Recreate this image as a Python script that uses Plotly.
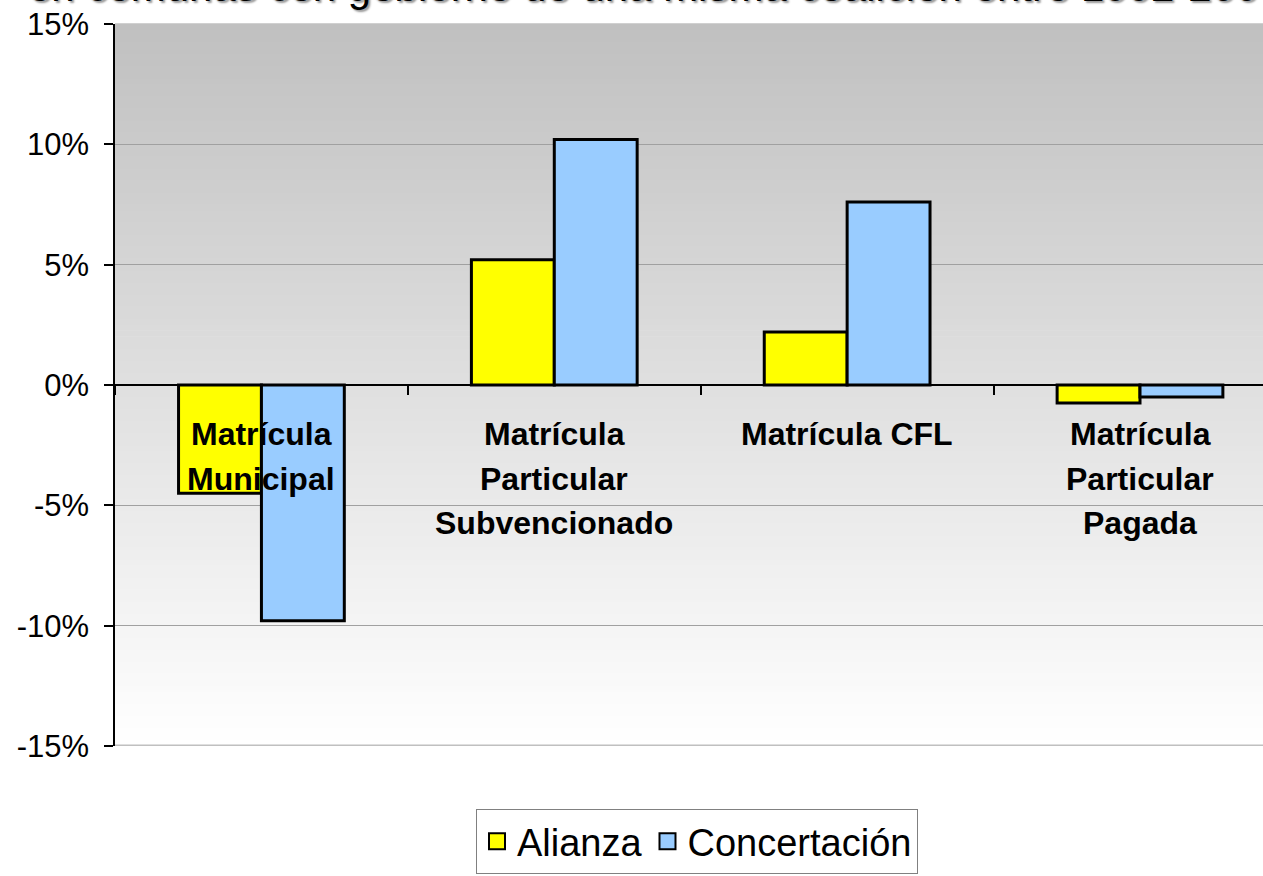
import plotly.graph_objects as go

# ---------------- data ----------------
category_lines = [
    ["Matrícula", "Municipal"],
    ["Matrícula", "Particular", "Subvencionado"],
    ["Matrícula CFL"],
    ["Matrícula", "Particular", "Pagada"],
]
categories = [" ".join(l) for l in category_lines]
alianza = [-4.5, 5.2, 2.2, -0.75]
concertacion = [-9.8, 10.2, 7.6, -0.5]
series_names = ["Alianza", "Concertación"]
y_tickvals = [-15, -10, -5, 0, 5, 10, 15]
y_ticktext = ["-15%", "-10%", "-5%", "0%", "5%", "10%", "15%"]
title_text = "en comunas con gobierno de una misma coalición entre 1992-2004"

FONT = "Arial, 'Liberation Sans', sans-serif"
colors = ["#FFFF00", "#99CCFF"]

fig = go.Figure()
for name, vals, col in zip(series_names, [alianza, concertacion], colors):
    fig.add_trace(go.Bar(
        x=categories, y=vals, name=name, showlegend=False,
        marker=dict(color=col, line=dict(color="black", width=3)),
    ))
    # legend proxy
    fig.add_trace(go.Scatter(
        x=[None], y=[None], mode="markers", name=name,
        marker=dict(symbol="square", size=16, color=col,
                    line=dict(color="black", width=2)),
    ))

# gradient background bands
shapes = []
N = 120
for i in range(N):
    t0 = i / N
    t1 = (i + 1) / N
    tc = (t0 + t1) / 2
    v = int(round(255 - 63 * tc))
    shapes.append(dict(type="rect", xref="paper", yref="paper",
                       x0=0, x1=1, y0=t0, y1=t1 + 0.001,
                       fillcolor=f"rgb({v},{v},{v})",
                       line=dict(width=0), layer="below"))
# bottom border of plot area
shapes.append(dict(type="line", xref="paper", yref="y", x0=0, x1=1,
                   y0=-15, y1=-15, line=dict(color="#c0c0c0", width=3),
                   layer="above"))

annotations = []
for cat, lines in zip(categories, category_lines):
    for j, line in enumerate(lines):
        annotations.append(dict(
            x=cat, y=0, xref="x", yref="y", text=f"<b>{line}</b>",
            showarrow=False, xanchor="center", yanchor="middle",
            yshift=-(49 + 44.5 * j),
            font=dict(family=FONT, size=32, color="black"),
        ))

annotations.append(dict(
    x=(26 - 115) / 1148, y=(746 - 12) / 722, xref="paper", yref="paper",
    text=title_text, showarrow=False, xanchor="left", yanchor="bottom",
    font=dict(family=FONT, size=42, color="black", shadow="2px 2px 2px #999999"),
))

fig.update_layout(
    width=1263, height=876,
    margin=dict(l=115, r=0, t=24, b=130, autoexpand=False),
    paper_bgcolor="white", plot_bgcolor="rgba(0,0,0,0)",
    font=dict(family=FONT, color="black"),
    barmode="group", bargap=0.434, bargroupgap=0,
    shapes=shapes, annotations=annotations,
    legend=dict(orientation="h", x=(697 - 115) / 1148, y=(746 - 809) / 722,
                xanchor="center", yanchor="top",
                font=dict(family=FONT, size=38, color="black"),
                bordercolor="#808080", borderwidth=1, bgcolor="white",
                itemclick=False),
    xaxis=dict(type="category", range=[-0.5, 3.42], anchor="free", position=0.5,
               showticklabels=False, showgrid=False, showline=True,
               linecolor="black", linewidth=1.5, ticks="outside",
               tickson="boundaries", ticklen=9, tickcolor="black", tickwidth=1.5,
               zeroline=False, fixedrange=True),
    yaxis=dict(range=[-15, 15], tickvals=y_tickvals, ticktext=y_ticktext,
               showgrid=True, gridcolor="#a0a0a0", gridwidth=1,
               zeroline=False, showline=True, linecolor="black", linewidth=1.5,
               ticks="outside", ticklen=9, tickcolor="black", tickwidth=1.5,
               ticklabelstandoff=9,
               tickfont=dict(family=FONT, size=31, color="black"),
               fixedrange=True),
)

fig.write_html("out.html", config={"displayModeBar": False},
               post_script="document.body.style.margin='0';document.body.style.overflow='hidden';")
